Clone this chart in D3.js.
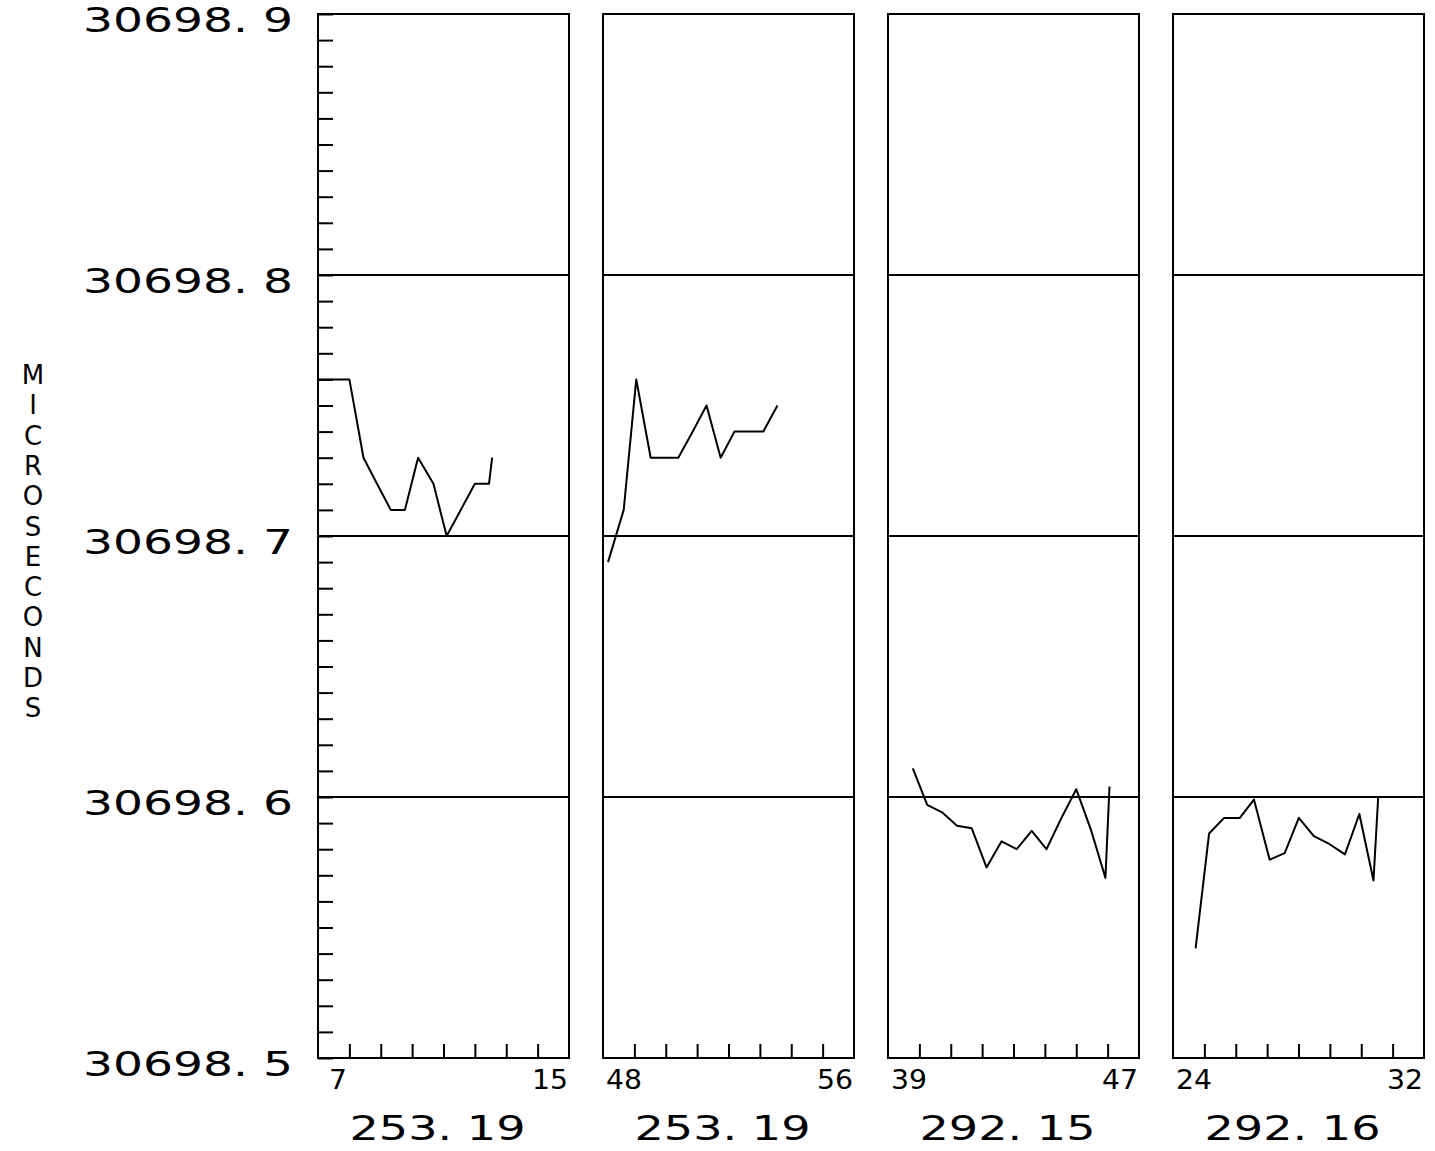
<!DOCTYPE html>
<html>
<head>
<meta charset="utf-8">
<script src="https://cdn.jsdelivr.net/npm/d3@7"></script>
<style>
  html, body { margin: 0; padding: 0; background: #fff; }
  svg { display: block; }
  text { font-family: "DejaVu Sans", "Liberation Sans", sans-serif; fill: #000; }
</style>
</head>
<body>
<svg id="chart" width="1435" height="1151"></svg>
<script>
// ---- data ----
const panelTitles = ["253. 19", "253. 19", "292. 15", "292. 16"];
const xDomains = [[7, 15], [48, 56], [39, 47], [24, 32]];
const yTickLabels = ["30698. 5", "30698. 6", "30698. 7", "30698. 8", "30698. 9"];
const yMajorValues = [30698.5, 30698.6, 30698.7, 30698.8, 30698.9];
const yAxisTitle = "MICROSECONDS";

const x1 = [7.0, 7.47, 8.0, 8.45, 8.88, 9.32, 9.77, 10.19, 10.68, 11.1, 11.55, 12.0, 12.45, 12.55];
const y1 = [30698.76, 30698.76, 30698.76, 30698.73, 30698.72, 30698.71, 30698.71, 30698.73, 30698.72, 30698.70, 30698.71, 30698.72, 30698.72, 30698.73];

const x2 = [48.16, 48.66, 49.06, 49.52, 49.96, 50.40, 50.86, 51.30, 51.75, 52.19, 52.64, 53.11, 53.56];
const y2 = [30698.69, 30698.71, 30698.76, 30698.73, 30698.73, 30698.73, 30698.74, 30698.75, 30698.73, 30698.74, 30698.74, 30698.74, 30698.75];

const x3 = [39.79, 40.25, 40.74, 41.2, 41.67, 42.14, 42.62, 43.1, 43.58, 44.05, 44.53, 45.0, 45.48, 45.93, 46.06];
const y3 = [30698.611, 30698.597, 30698.594, 30698.589, 30698.588, 30698.573, 30698.583, 30698.580, 30698.587, 30698.580, 30698.592, 30698.603, 30698.587, 30698.569, 30698.604];

const x4 = [24.72, 25.15, 25.63, 26.13, 26.58, 27.08, 27.56, 28.01, 28.49, 28.98, 29.48, 29.94, 30.39, 30.54];
const y4 = [30698.542, 30698.586, 30698.592, 30698.592, 30698.599, 30698.576, 30698.5785, 30698.592, 30698.585, 30698.582, 30698.578, 30698.5935, 30698.568, 30698.600];

const seriesX = [x1, x2, x3, x4];
const seriesY = [y1, y2, y3, y4];

// ---- layout ----
const svg = d3.select("#chart");
const plotTop = 14, plotBottom = 1058;
const panelLeft0 = 318, panelW = 251, panelStep = 285;
const stroke = 2;

const y = d3.scaleLinear().domain([30698.5, 30698.9]).range([plotBottom, plotTop]);

panelTitles.forEach((title, i) => {
  const left = panelLeft0 + i * panelStep;
  const x = d3.scaleLinear().domain(xDomains[i]).range([left, left + panelW]);
  const g = svg.append("g");

  // grid lines at interior major values
  g.selectAll("line.grid")
    .data(yMajorValues.slice(1, -1))
    .join("line")
    .attr("x1", left).attr("x2", left + panelW)
    .attr("y1", d => y(d)).attr("y2", d => y(d))
    .attr("stroke", "#000").attr("stroke-width", stroke);

  // x ticks (pointing up from bottom)
  const xt = d3.range(xDomains[i][0] + 1, xDomains[i][1]);
  const xAxis = d3.axisTop(x).tickValues(xt).tickSize(14).tickFormat("");
  g.append("g").attr("transform", `translate(0,${plotBottom})`).call(xAxis)
    .call(s => s.select(".domain").remove())
    .call(s => s.selectAll(".tick line").attr("stroke", "#000").attr("stroke-width", stroke));

  // y minor ticks on first panel
  if (i === 0) {
    const minor = d3.range(0, 41).map(k => 30698.5 + k * 0.01);
    const yAxis = d3.axisRight(y).tickValues(minor).tickSize(15).tickFormat("");
    g.append("g").attr("transform", `translate(${left},0)`).call(yAxis)
      .call(s => s.select(".domain").remove())
      .call(s => s.selectAll(".tick line").attr("stroke", "#000").attr("stroke-width", stroke));
  }

  // frame
  g.append("rect")
    .attr("x", left).attr("y", plotTop)
    .attr("width", panelW).attr("height", plotBottom - plotTop)
    .attr("fill", "none").attr("stroke", "#000").attr("stroke-width", stroke);

  // data line
  const pts = seriesX[i].map((xv, k) => [xv, seriesY[i][k]]);
  g.append("path")
    .datum(pts)
    .attr("d", d3.line().x(d => x(d[0])).y(d => y(d[1])))
    .attr("fill", "none").attr("stroke", "#000")
    .attr("stroke-width", 2).attr("stroke-linejoin", "round");

  // x end labels
  const lo = String(xDomains[i][0]), hi = String(xDomains[i][1]);
  g.append("text")
    .attr("x", x(xDomains[i][0]) + 3 + (2 - lo.length) * 8)
    .attr("y", 1089)
    .attr("font-size", 27)
    .attr("textLength", 18 * lo.length).attr("lengthAdjust", "spacingAndGlyphs")
    .text(lo);
  g.append("text")
    .attr("x", x(xDomains[i][1]) - 37)
    .attr("y", 1089)
    .attr("font-size", 27)
    .attr("textLength", 36).attr("lengthAdjust", "spacingAndGlyphs")
    .text(hi);

  // panel title
  const cx = left + panelW / 2 - 6;
  g.append("text")
    .attr("x", cx - 88).attr("y", 1140)
    .attr("font-size", 34)
    .attr("textLength", 176).attr("lengthAdjust", "spacingAndGlyphs")
    .text(title);
});

// y major labels
const yLab = d3.axisLeft(y).tickValues(yMajorValues).tickSize(0)
  .tickFormat((d, k) => yTickLabels[k]);
svg.append("g").attr("transform", `translate(293,0)`).call(yLab)
  .call(s => s.select(".domain").remove())
  .call(s => s.selectAll(".tick text")
    .attr("font-family", "DejaVu Sans, sans-serif")
    .attr("font-size", 33)
    .attr("fill", "#000")
    .attr("x", -210).attr("dy", null).attr("y", 17)
    .attr("text-anchor", "start")
    .attr("textLength", 210).attr("lengthAdjust", "spacingAndGlyphs"));

// vertical stacked axis title
svg.append("g").selectAll("text")
  .data(yAxisTitle.split(""))
  .join("text")
  .attr("x", 33).attr("y", (d, k) => 384 + k * 30.3)
  .attr("text-anchor", "middle")
  .attr("font-size", 26)
  .text(d => d);
</script>
</body>
</html>
